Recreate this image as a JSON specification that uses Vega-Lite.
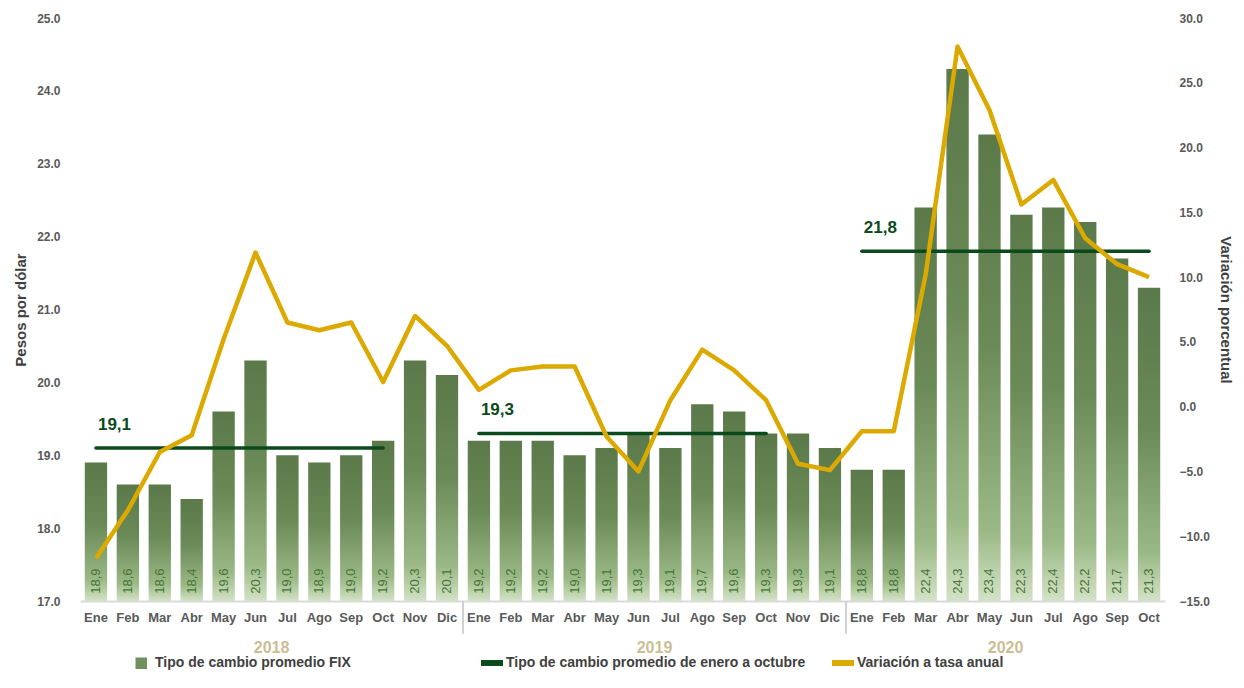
{
  "$schema": "https://vega.github.io/schema/vega-lite/v6.json",
  "autosize": {"type": "none"},
  "width": 1085,
  "height": 583,
  "padding": {"left": 80, "top": 18, "right": 79, "bottom": 87},
  "background": "white",
  "config": {
    "view": {"stroke": null},
    "font": "Liberation Sans Narrow, Liberation Sans, Arial",
    "axis": {"labelFont": "Liberation Sans Narrow, Liberation Sans, Arial", "titleFont": "Liberation Sans Narrow, Liberation Sans, Arial"}
  },
  "datasets": {
    "main": [
      {"key": "2018-Ene", "fix": 18.9, "var": -11.7},
      {"key": "2018-Feb", "fix": 18.6, "var": -8.0},
      {"key": "2018-Mar", "fix": 18.6, "var": -3.5},
      {"key": "2018-Abr", "fix": 18.4, "var": -2.2},
      {"key": "2018-May", "fix": 19.6, "var": 5.2},
      {"key": "2018-Jun", "fix": 20.3, "var": 11.9},
      {"key": "2018-Jul", "fix": 19.0, "var": 6.5},
      {"key": "2018-Ago", "fix": 18.9, "var": 5.9},
      {"key": "2018-Sep", "fix": 19.0, "var": 6.5},
      {"key": "2018-Oct", "fix": 19.2, "var": 1.9},
      {"key": "2018-Nov", "fix": 20.3, "var": 7.0},
      {"key": "2018-Dic", "fix": 20.1, "var": 4.7},
      {"key": "2019-Ene", "fix": 19.2, "var": 1.3},
      {"key": "2019-Feb", "fix": 19.2, "var": 2.8},
      {"key": "2019-Mar", "fix": 19.2, "var": 3.1},
      {"key": "2019-Abr", "fix": 19.0, "var": 3.1},
      {"key": "2019-May", "fix": 19.1, "var": -2.3},
      {"key": "2019-Jun", "fix": 19.3, "var": -5.0},
      {"key": "2019-Jul", "fix": 19.1, "var": 0.5},
      {"key": "2019-Ago", "fix": 19.7, "var": 4.4},
      {"key": "2019-Sep", "fix": 19.6, "var": 2.8},
      {"key": "2019-Oct", "fix": 19.3, "var": 0.5},
      {"key": "2019-Nov", "fix": 19.3, "var": -4.4},
      {"key": "2019-Dic", "fix": 19.1, "var": -4.9},
      {"key": "2020-Ene", "fix": 18.8, "var": -1.9},
      {"key": "2020-Feb", "fix": 18.8, "var": -1.9},
      {"key": "2020-Mar", "fix": 22.4, "var": 10.2},
      {"key": "2020-Abr", "fix": 24.3, "var": 27.8},
      {"key": "2020-May", "fix": 23.4, "var": 22.9},
      {"key": "2020-Jun", "fix": 22.3, "var": 15.6},
      {"key": "2020-Jul", "fix": 22.4, "var": 17.5},
      {"key": "2020-Ago", "fix": 22.2, "var": 13.0},
      {"key": "2020-Sep", "fix": 21.7, "var": 11.0},
      {"key": "2020-Oct", "fix": 21.3, "var": 10.0}
    ],
    "avgs": [
      {"start": "2018-Ene", "end": "2018-Oct", "avg": 19.1, "serie": "Tipo de cambio promedio de enero a octubre"},
      {"start": "2019-Ene", "end": "2019-Oct", "avg": 19.3, "serie": "Tipo de cambio promedio de enero a octubre"},
      {"start": "2020-Ene", "end": "2020-Oct", "avg": 21.8, "serie": "Tipo de cambio promedio de enero a octubre"}
    ],
    "seps": [{"key": "2019-Ene"}, {"key": "2020-Ene"}],
    "years": [
      {"key": "2018-Jul", "year": "2018"},
      {"key": "2019-Jul", "year": "2019"},
      {"key": "2020-Jun", "year": "2020"}
    ]
  },
  "encoding": {
    "x": {
      "field": "key",
      "type": "nominal",
      "sort": null,
      "scale": {
        "domain": ["2018-Ene","2018-Feb","2018-Mar","2018-Abr","2018-May","2018-Jun","2018-Jul","2018-Ago","2018-Sep","2018-Oct","2018-Nov","2018-Dic","2019-Ene","2019-Feb","2019-Mar","2019-Abr","2019-May","2019-Jun","2019-Jul","2019-Ago","2019-Sep","2019-Oct","2019-Nov","2019-Dic","2020-Ene","2020-Feb","2020-Mar","2020-Abr","2020-May","2020-Jun","2020-Jul","2020-Ago","2020-Sep","2020-Oct"],
        "paddingInner": 0.3,
        "paddingOuter": 0.15
      },
      "axis": {
        "title": null,
        "labelExpr": "split(datum.value, '-')[1]",
        "labelAngle": 0,
        "ticks": false,
        "domainColor": "#d9d9d9",
        "domainWidth": 2,
        "labelPadding": 10,
        "labelFontSize": 13,
        "labelFontWeight": "bold",
        "labelColor": "#595959",
        "grid": false
      }
    }
  },
  "layer": [
    {
      "layer": [
        {
          "data": {"name": "main"},
          "mark": {
            "type": "bar",
            "color": {
              "gradient": "linear", "x1": 0, "y1": 0, "x2": 0, "y2": 1,
              "stops": [
                {"offset": 0, "color": "#5b7949"},
                {"offset": 0.45, "color": "#6a8a57"},
                {"offset": 0.85, "color": "#9bb986"},
                {"offset": 1, "color": "#d3e2c6"}
              ]
            }
          },
          "encoding": {
            "y": {
              "field": "fix", "type": "quantitative",
              "scale": {"domain": [17, 25], "zero": false, "nice": false},
              "axis": {
                "title": "Pesos por dólar",
                "values": [17, 18, 19, 20, 21, 22, 23, 24, 25],
                "format": ".1f",
                "ticks": false, "domain": false, "grid": false,
                "labelPadding": 20, "labelFontSize": 12, "labelFontWeight": "bold", "labelColor": "#595959",
                "titleFontSize": 15, "titleFontWeight": "bold", "titleColor": "#404040", "titlePadding": 8
              }
            },
            "y2": {"datum": 17}
          }
        },
        {
          "data": {"name": "main"},
          "mark": {"type": "text", "angle": 270, "align": "left", "baseline": "middle", "fontSize": 13, "color": "#467534", "text": {"expr": "replace(format(datum.fix, '.1f'), '.', ',')"}},
          "encoding": {
            "y": {"datum": 17.1, "type": "quantitative"}
          }
        },
        {
          "data": {"name": "avgs"},
          "mark": {"type": "rule", "strokeWidth": 3.5, "strokeCap": "round"},
          "encoding": {
            "x": {"field": "start", "type": "nominal"},
            "x2": {"field": "end"},
            "y": {"field": "avg", "type": "quantitative"},
            "color": {
              "field": "serie", "type": "nominal",
              "scale": {
                "domain": ["Tipo de cambio promedio FIX", "Tipo de cambio promedio de enero a octubre", "Variación a tasa anual"],
                "range": ["#6f8f5c", "#0b4a1c", "#dba900"]
              },
              "legend": {
                "title": null,
                "orient": "none",
                "legendX": 50,
                "legendY": 634,
                "direction": "horizontal",
                "columns": 3,
                "gridAlign": "all",
                "columnPadding": 26,
                "labelLimit": 400,
                "labelFontSize": 14,
                "labelFontWeight": "bold",
                "labelColor": "#404040",
                "labelOffset": 3,
                "symbolSize": 484,
                "encode": {
                  "symbols": {
                    "update": {
                      "shape": {"signal": "datum.value === 'Tipo de cambio promedio FIX' ? 'M-0.5,-0.5H0.55V0.55H-0.5Z' : 'M-1,-0.27H1V0.27H-1Z'"},
                      "fill": {"signal": "scale('color', datum.value)"},
                      "stroke": {"value": null},
                      "strokeWidth": {"value": 0}
                    }
                  }
                }
              }
            }
          }
        },
        {
          "data": {"name": "avgs"},
          "mark": {"type": "text", "align": "left", "baseline": "bottom", "dx": 2, "dy": -14, "fontSize": 17, "fontWeight": "bold", "color": "#0b4a1c", "text": {"expr": "replace(format(datum.avg, '.1f'), '.', ',')"}},
          "encoding": {
            "x": {"field": "start", "type": "nominal"},
            "y": {"field": "avg", "type": "quantitative"}
          }
        },
        {
          "data": {"name": "seps"},
          "mark": {"type": "rule", "color": "#d0d0d0", "strokeWidth": 2},
          "encoding": {
            "x": {"field": "key", "type": "nominal", "bandPosition": -0.21},
            "y": {"datum": 17, "type": "quantitative"},
            "y2": {"datum": 16.55}
          }
        },
        {
          "data": {"name": "years"},
          "mark": {"type": "text", "align": "center", "baseline": "middle", "fontSize": 16, "fontWeight": "bold", "color": "#c9be94"},
          "encoding": {
            "x": {"field": "key", "type": "nominal", "bandPosition": -0.21},
            "y": {"datum": 16.36, "type": "quantitative"},
            "text": {"field": "year"}
          }
        }
      ]
    },
    {
      "data": {"name": "main"},
      "mark": {"type": "line", "strokeWidth": 4.5, "strokeJoin": "round"},
      "encoding": {
        "y": {
          "field": "var", "type": "quantitative",
          "scale": {"domain": [-15, 30], "zero": false, "nice": false},
          "axis": {
            "orient": "right",
            "title": "Variación porcentual",
            "values": [-15, -10, -5, 0, 5, 10, 15, 20, 25, 30],
            "format": ".1f",
            "ticks": false, "domain": false, "grid": false,
            "labelPadding": 14, "labelFontSize": 12, "labelFontWeight": "bold", "labelColor": "#595959",
            "titleFontSize": 15, "titleFontWeight": "bold", "titleColor": "#404040", "titlePadding": 8
          }
        },
        "color": {"datum": "Variación a tasa anual", "type": "nominal"}
      }
    }
  ],
  "resolve": {"scale": {"y": "independent"}}
}
